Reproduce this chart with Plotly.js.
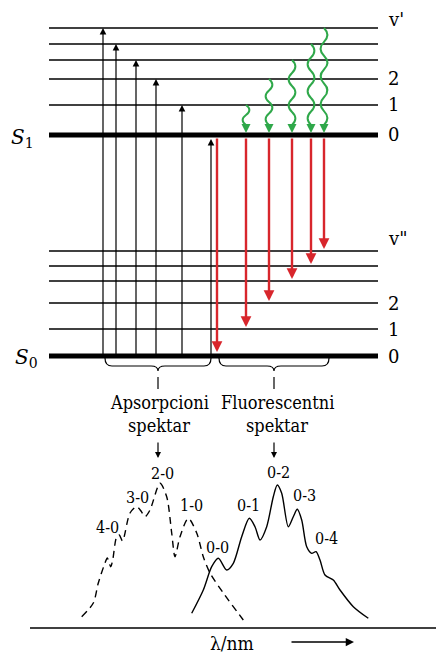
<!DOCTYPE html>
<html><head><meta charset="utf-8">
<script src="https://cdn.plot.ly/plotly-3.0.1.min.js"></script>
<style>html,body{margin:0;padding:0;background:#fff}</style>
</head><body><div id="chart" style="width:436px;height:660px"></div>
<script>
// ---- DATA ----
const s1Levels = [135, 105, 79, 60, 44, 28];      // v' = 0..5
const s0Levels = [356, 329, 303, 281, 266, 251];  // v'' = 0..5
const levelLabelsS1 = ["0", "1", "2"];
const levelLabelsS0 = ["0", "1", "2"];
const absUpper = [5, 4, 3, 2, 1, 0];
const fluLower = [0, 1, 2, 3, 4, 5];
const relaxFrom = [1, 2, 3, 4, 5];
const absWl = [81.7, 93.3, 98.3, 105, 107.3, 110.7, 112.7, 116.7, 119.3, 122.5, 130, 136.7, 141, 145, 150, 160, 166.7, 171.7, 175, 180, 188.3, 196.7, 203.3, 210, 223.3, 243.3];
const absInt = [616.7, 603, 583, 563, 558, 566.7, 560, 536.7, 535, 541, 513, 506.7, 511, 516.7, 510, 483.3, 496.7, 533, 556.7, 536.7, 518.3, 533, 556.7, 573, 593, 620];
const absBands = ["4-0", "3-0", "2-0", "1-0", "0-0"];
const fluWl = [191.7, 203.3, 211.7, 218.3, 226.7, 233.3, 241.7, 249.3, 255, 260, 266.7, 273.3, 277.3, 281.7, 288.3, 293.3, 297.3, 301.7, 306.7, 311.7, 316, 320, 325, 333.3, 340, 353.3, 368.3];
const fluInt = [613.3, 590, 566.7, 558.3, 570, 563.3, 536.7, 518.3, 526.7, 540, 526.7, 496.7, 485, 493.3, 526.7, 516.7, 509.3, 520, 546.7, 553.3, 551.7, 560, 575, 580, 590, 606.7, 618.3];
const fluBands = ["0-1", "0-2", "0-3", "0-4"];

// ---- LAYOUT POSITIONS ----
const X0 = 49, X1 = 378;
const absX = [103, 116, 136, 156, 182, 211];
const fluX = [217, 246, 269, 292, 311, 324];
const relaxX = [246, 269, 292, 311, 324];
const serif = "DejaVu Serif";
const serifC = "DejaVu Serif Condensed";
const RED = "#d8262c", GREEN = "#2fa84a";

const traces = [];
const shapes = [];
const ann = [];

function hline(y, w) {
  traces.push({x: [X0, X1], y: [y, y], mode: "lines", line: {color: "#000", width: w}, hoverinfo: "skip", showlegend: false});
}
s1Levels.forEach((y, i) => hline(y, i === 0 ? 5 : 1.4));
s0Levels.forEach((y, i) => hline(y, i === 0 ? 5 : 1.4));

function arrow(x, yTail, yHead, color, width, size) {
  ann.push({x: x, y: yHead, ax: x, ay: yTail, xref: "x", yref: "y", axref: "x", ayref: "y",
    text: "", showarrow: true, arrowhead: 2, arrowsize: size, arrowwidth: width, arrowcolor: color});
}
absUpper.forEach((v, i) => {
  const yH = v === 0 ? s1Levels[0] + 4 : s1Levels[v];
  arrow(absX[i], s0Levels[0], yH, "#000", 1.2, 1.1);
});
fluLower.forEach((v, i) => {
  const yH = v === 0 ? s0Levels[0] - 4 : s0Levels[v] - 2;
  arrow(fluX[i], s1Levels[0] + 2, yH, RED, 2.4, 0.9);
});
relaxFrom.forEach((v, i) => {
  const x = relaxX[i], yTop = s1Levels[v], yEnd = s1Levels[0] - 10;
  const n = Math.max(2, Math.round((yEnd - yTop) / 13));
  const seg = (yEnd - yTop) / n;
  let p = `M ${x} ${yTop}`;
  for (let k = 0; k < n; k++) {
    const d = k % 2 === 0 ? 4.5 : -4.5;
    const ya = yTop + seg * k;
    p += ` C ${x + d} ${ya + seg * 0.33}, ${x + d} ${ya + seg * 0.67}, ${x} ${ya + seg}`;
  }
  shapes.push({type: "path", path: p, xref: "x", yref: "y", line: {color: GREEN, width: 2}});
  ann.push({x: x, y: s1Levels[0] - 2, ax: x, ay: yEnd, xref: "x", yref: "y", axref: "x", ayref: "y",
    text: "", showarrow: true, arrowhead: 2, arrowsize: 0.9, arrowwidth: 2, arrowcolor: GREEN});
});

function brace(xa, xb, y) {
  const xc = (xa + xb) / 2;
  const p = `M ${xa} ${y} Q ${xa} ${y + 8} ${xa + 7} ${y + 8} L ${xc - 7} ${y + 8} Q ${xc} ${y + 8} ${xc} ${y + 13} Q ${xc} ${y + 8} ${xc + 7} ${y + 8} L ${xb - 7} ${y + 8} Q ${xb} ${y + 8} ${xb} ${y}`;
  shapes.push({type: "path", path: p, xref: "x", yref: "y", line: {color: "#000", width: 1.2}});
  shapes.push({type: "line", x0: xc, x1: xc, y0: y + 19, y1: y + 31, xref: "x", yref: "y", line: {color: "#000", width: 1.2}});
  arrow(xc, y + 83, y + 100, "#000", 1.2, 1.0);
}
brace(105, 211, 358);
brace(219, 329, 358);

function txt(t, x, y, size, anchor, fam) {
  ann.push({text: t, x: x, y: y, xref: "x", yref: "y", showarrow: false, xanchor: anchor || "center", yanchor: "middle",
    font: {family: fam || serif, size: size, color: "#000"}});
}
txt("<i>S</i><sub>1</sub>", 22, 138, 20);
txt("<i>S</i><sub>0</sub>", 26, 358, 20);
txt("v'", 386, 19, 18, "left");
txt("v\"", 386, 238, 18, "left");
levelLabelsS1.forEach((l, i) => txt(l, 386, s1Levels[i] - 1, 18, "left"));
levelLabelsS0.forEach((l, i) => txt(l, 386, s0Levels[i], 18, "left"));
txt("Apsorpcioni", 159, 402, 18, "center", serifC);
txt("spektar", 159, 425, 18, "center", serifC);
txt("Fluorescentni", 277, 402, 18, "center", serifC);
txt("spektar", 277, 425, 18, "center", serifC);
const absLabPos = [[107, 527], [137, 497], [162, 473], [191, 505], [217, 547]];
absBands.forEach((b, i) => txt(b, absLabPos[i][0], absLabPos[i][1], 16, "center", serifC));
const fluLabPos = [[248, 505], [278, 472], [304, 495], [326, 538]];
fluBands.forEach((b, i) => txt(b, fluLabPos[i][0], fluLabPos[i][1], 16, "center", serifC));
txt("λ/nm", 232, 643, 19, "center", serifC);
ann.push({x: 354, y: 642, ax: 290, ay: 642, xref: "x", yref: "y", axref: "x", ayref: "y",
  text: "", showarrow: true, arrowhead: 2, arrowsize: 1.1, arrowwidth: 1.5, arrowcolor: "#000"});
shapes.push({type: "line", x0: 30, x1: 436, y0: 628, y1: 628, xref: "x", yref: "y", line: {color: "#000", width: 1.5}});

traces.push({x: absWl, y: absInt, mode: "lines", line: {color: "#000", width: 1.4, dash: "7px,5px", shape: "spline", smoothing: 0.8}, hoverinfo: "skip", showlegend: false});
traces.push({x: fluWl, y: fluInt, mode: "lines", line: {color: "#000", width: 1.4, shape: "spline", smoothing: 0.8}, hoverinfo: "skip", showlegend: false});

const layout = {
  width: 436, height: 660, margin: {l: 0, r: 0, t: 0, b: 0},
  paper_bgcolor: "#fff", plot_bgcolor: "#fff", showlegend: false,
  xaxis: {range: [0, 436], visible: false, fixedrange: true},
  yaxis: {range: [660, 0], visible: false, fixedrange: true},
  shapes: shapes, annotations: ann
};
Plotly.newPlot("chart", traces, layout, {staticPlot: true, displayModeBar: false});
</script></body></html>
